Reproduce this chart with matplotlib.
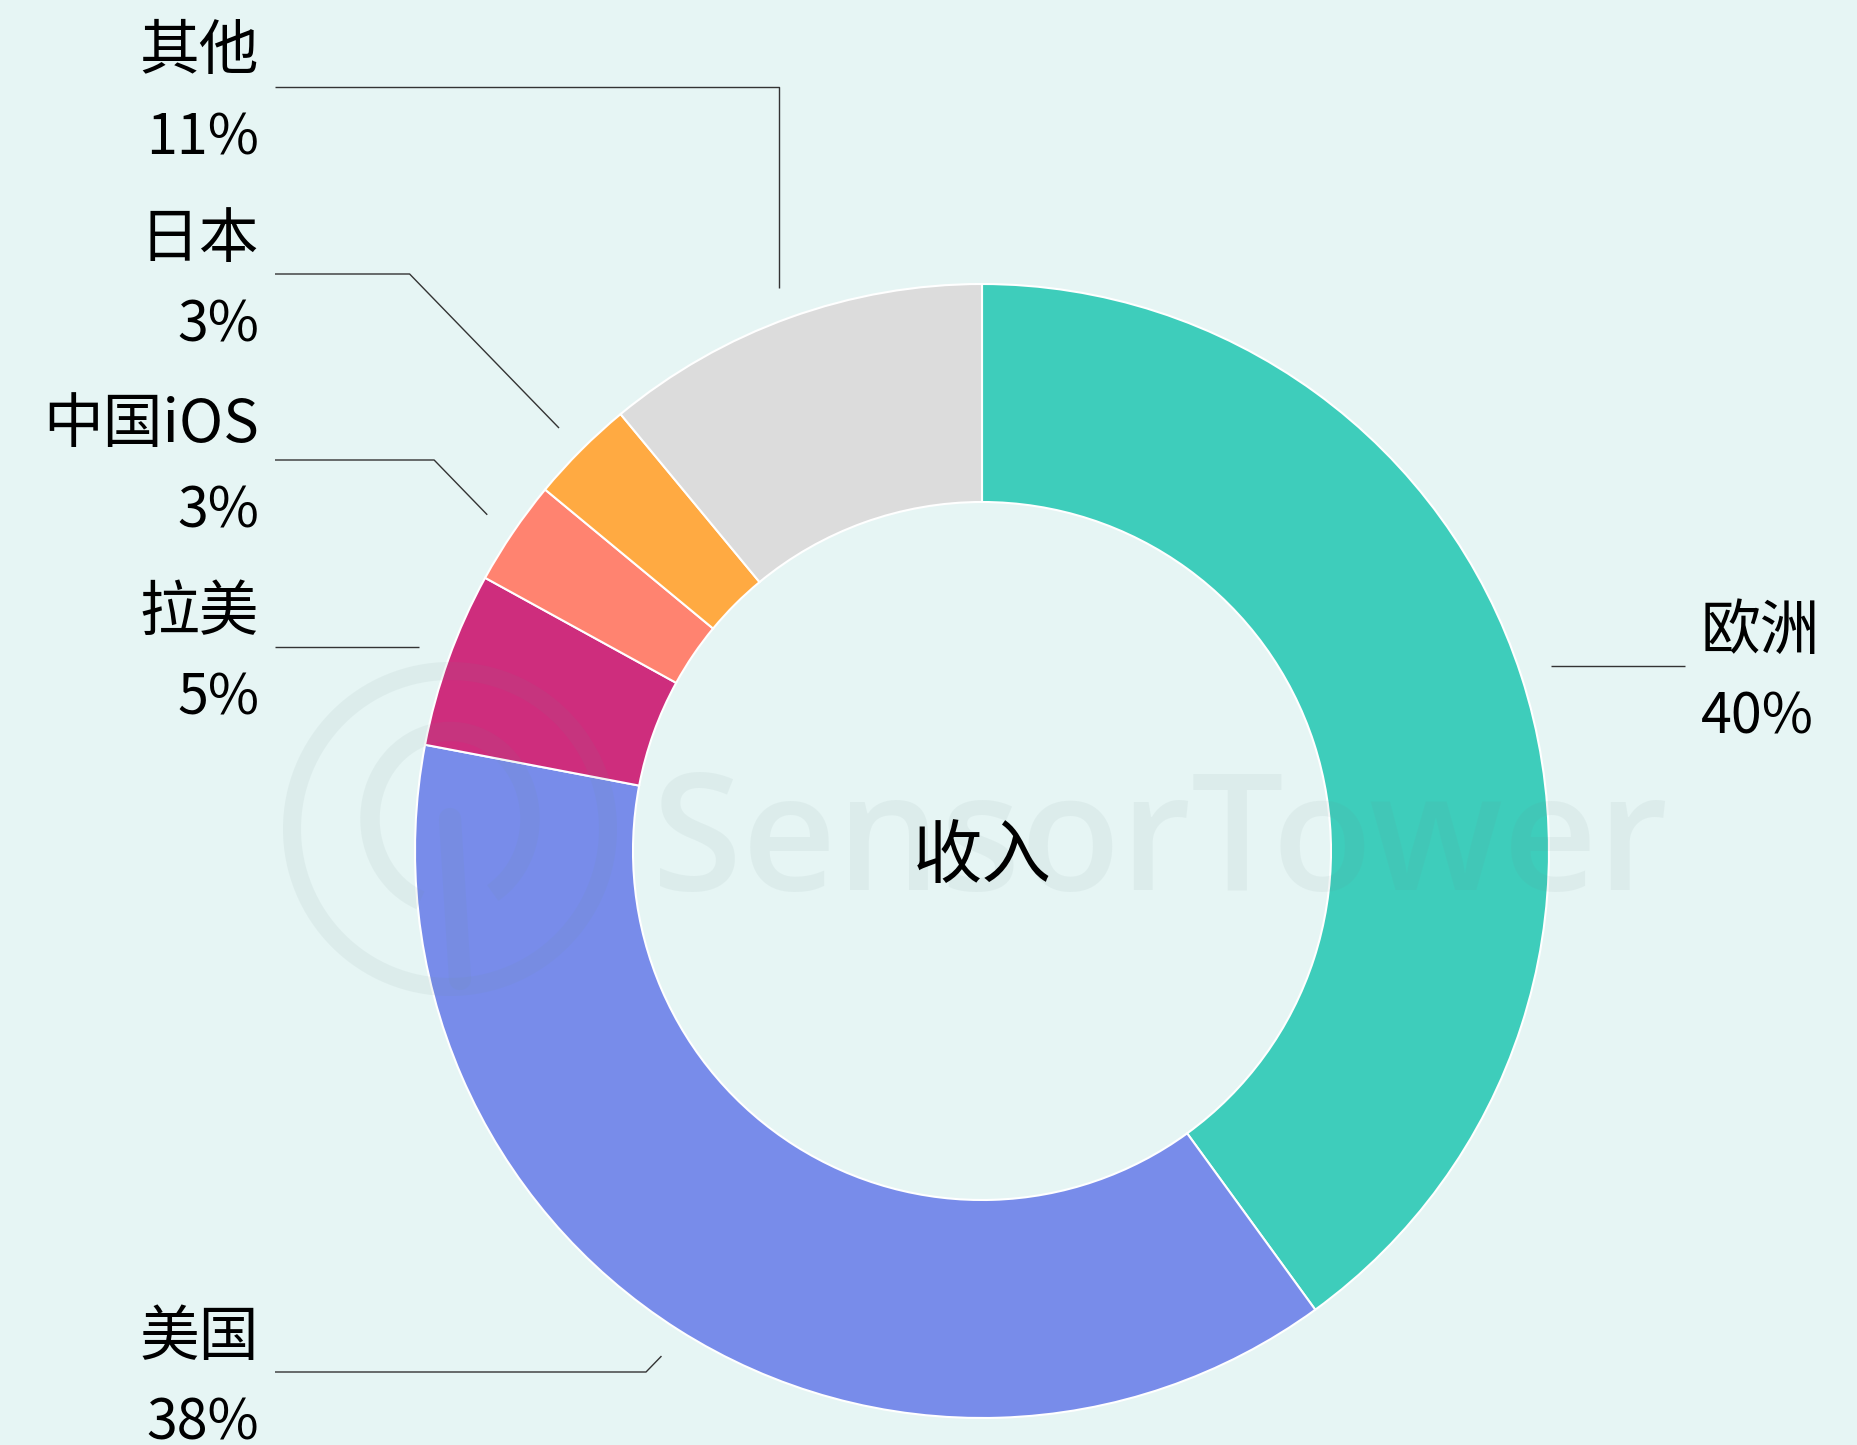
import matplotlib
matplotlib.use("Agg")
import matplotlib.pyplot as plt
from matplotlib.patches import Circle, Arc
import numpy as np

plt.rcParams['font.family'] = ['Noto Sans CJK SC', 'DejaVu Sans']

# ---- data ----
categories = ['欧洲', '美国', '拉美', '中国iOS', '日本', '其他']
shares = [40, 38, 5, 3, 3, 11]
colors = ['#3ECDBB', '#788CEA', '#CE2D7D', '#FF8370', '#FFAA42', '#DCDCDC']
center_label = '收入'

# ---- layout (pixels) ----
W, H = 1858, 1445
BG = '#E6F5F4'
cx, cy = 982, H - 851
R_out, R_in = 567, 349
# label line y (from top) for each category, in the same order
label_line_y = [666, 1372, 647, 460, 274, 86.5]
left_x_line, left_x_text = 275, 259
right_x_line, right_x_text = 1685, 1701
FS_NAME = 43
FS_PCT = 40

fig = plt.figure(figsize=(W / 100, H / 100), dpi=100, facecolor=BG)
ax = fig.add_axes([0, 0, 1, 1])
ax.set_facecolor(BG)

wedges, _ = ax.pie(shares, colors=colors, startangle=90, counterclock=False,
                   radius=R_out, center=(cx, cy),
                   wedgeprops=dict(width=R_out - R_in, edgecolor='white', linewidth=1.5))
ax.set_xlim(0, W)
ax.set_ylim(0, H)
ax.set_aspect('equal')
ax.axis('off')

ax.text(cx, cy - 6, center_label, ha='center', va='center', fontsize=50, color='black', zorder=6)

# labels with leader lines
for w, name, val, ly in zip(wedges, categories, shares, label_line_y):
    mid = np.deg2rad((w.theta1 + w.theta2) / 2)
    px = cx + 1.055 * R_out * np.cos(mid)
    py = cy + 1.055 * R_out * np.sin(mid)
    ly_up = H - ly
    right = np.cos(mid) > 0
    if right:
        xs = [px, right_x_line]
        ys = [ly_up, ly_up]
        if abs(py - ly_up) > 2:
            xs = [px, px + 5, right_x_line]
            ys = [py, ly_up, ly_up]
        ax.plot(xs, ys, color='#333333', lw=1.0, solid_capstyle='butt')
        tx, ha = right_x_text, 'left'
    else:
        dy = ly_up - py
        if abs(dy) < 2:
            xs, ys = [px, left_x_line], [ly_up, ly_up]
        else:
            if abs(np.cos(mid)) < 0.4:
                ex = px
            else:
                ex = px - abs(dy) * 0.97
            xs, ys = [px, ex, left_x_line], [py, ly_up, ly_up]
        ax.plot(xs, ys, color='#333333', lw=1.0, solid_capstyle='butt')
        tx, ha = left_x_text, 'right'
    ax.text(tx, ly_up + 34, name, ha=ha, va='center', fontsize=FS_NAME, color='black')
    ax.text(tx, ly_up - 52, f'{val}%', ha=ha, va='center', fontsize=FS_PCT, color='black')

# watermark
wm = '#6E8C8C'
ax.text(1160, H - 848, 'SensorTower', ha='center', va='center', fontsize=118,
        fontweight='semibold', color=wm, alpha=0.08, family='Open Sans', zorder=5)
lx, ly0 = 450, H - 829
ax.add_patch(Circle((lx, ly0), 158, fill=False, lw=13, ec=wm, alpha=0.08, zorder=5))
ax.add_patch(Arc((lx, ly0 + 10), 160, 175, theta1=-60, theta2=250, lw=14, ec=wm, alpha=0.08, zorder=5))
ax.plot([lx, lx + 10], [ly0 + 10, ly0 - 150], color=wm, lw=16, alpha=0.08, zorder=5, solid_capstyle='round')

fig.savefig('out.png', dpi=100, facecolor=BG)
